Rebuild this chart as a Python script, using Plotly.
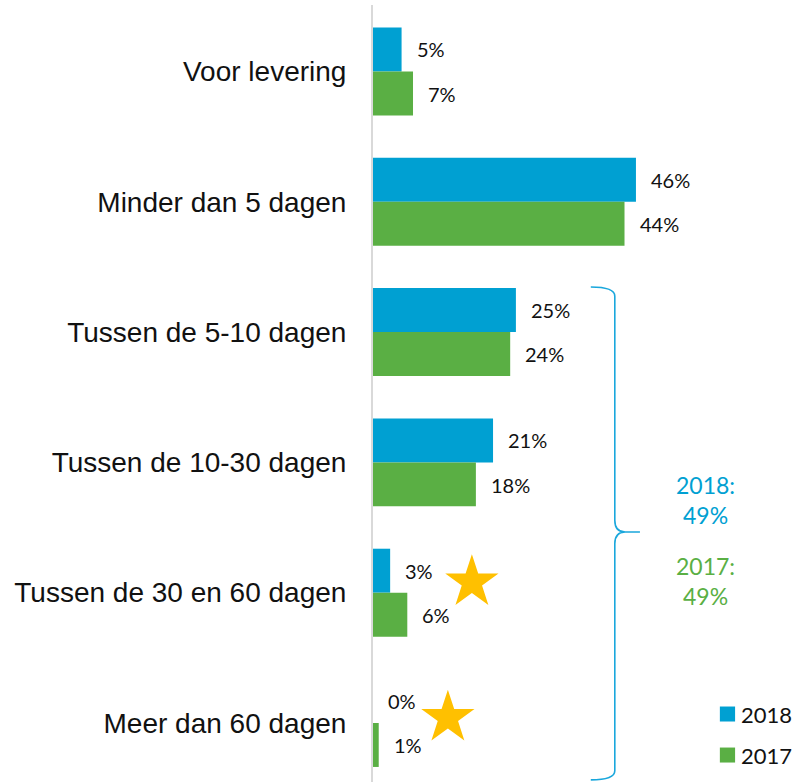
import plotly.graph_objects as go

categories = ["Voor levering", "Minder dan 5 dagen", "Tussen de 5-10 dagen",
              "Tussen de 10-30 dagen", "Tussen de 30 en 60 dagen", "Meer dan 60 dagen"]
values_2018 = [5, 46, 25, 21, 3, 0]
values_2017 = [7, 44, 24, 18, 6, 1]
series_names = ["2018", "2017"]
total_2018 = 49
total_2017 = 49
star_categories = ["Tussen de 30 en 60 dagen", "Meer dan 60 dagen"]

BLUE = "#00A0D2"
GREEN = "#5AAF44"
STAR = "#FFC000"
LABEL_FONT = "Lato"

idx = list(range(len(categories)))

fig = go.Figure()
fig.add_trace(go.Bar(y=idx, x=values_2018, name=series_names[0], orientation="h",
                     marker=dict(color=BLUE, line=dict(width=0)), showlegend=False))
fig.add_trace(go.Bar(y=idx, x=values_2017, name=series_names[1], orientation="h",
                     marker=dict(color=GREEN, line=dict(width=0)), showlegend=False))

annotations = []
for i, (v18, v17) in enumerate(zip(values_2018, values_2017)):
    annotations.append(dict(x=v18, y=i - 0.17, xref="x", yref="y", text=f"{v18}%",
                            showarrow=False, xanchor="left", xshift=13,
                            font=dict(family=LABEL_FONT, size=20, color="#111")))
    annotations.append(dict(x=v17, y=i + 0.17, xref="x", yref="y", text=f"{v17}%",
                            showarrow=False, xanchor="left", xshift=13,
                            font=dict(family=LABEL_FONT, size=20, color="#111")))

# totals next to bracket
annotations.append(dict(x=58.2, y=3.29, xref="x", yref="y", text=f"2018:<br>{total_2018}%",
                        showarrow=False, align="center",
                        font=dict(family=LABEL_FONT, size=23, color=BLUE)))
annotations.append(dict(x=58.2, y=3.91, xref="x", yref="y", text=f"2017:<br>{total_2017}%",
                        showarrow=False, align="center",
                        font=dict(family=LABEL_FONT, size=23, color=GREEN)))

# custom legend (bottom right)
shapes = []
for name, col, py in [(series_names[0], BLUE, 0.0875), (series_names[1], GREEN, 0.0347)]:
    shapes.append(dict(type="rect", xref="paper", yref="paper",
                       x0=0.820, x1=0.856, y0=py - 0.00965, y1=py + 0.00965,
                       fillcolor=col, line=dict(width=0)))
    annotations.append(dict(x=0.866, y=py, xref="paper", yref="paper", text=name,
                            showarrow=False, xanchor="left", yanchor="middle",
                            font=dict(family=LABEL_FONT, size=22, color="#111")))

# stars
star_x = [17.3, 13.1]
star_y = [categories.index(star_categories[0]) - 0.08, categories.index(star_categories[1]) - 0.04]
fig.add_trace(go.Scatter(x=star_x, y=star_y, mode="markers", showlegend=False,
                         marker=dict(symbol="star", size=40, color=STAR, line=dict(width=0)),
                         hoverinfo="skip", cliponaxis=False))

# bracket
bx, bl, br = 42.3, 38.1, 46.7
yt, ym, yb = 1.654, 3.534, 5.437
path = (f"M {bl},{yt} Q {bx},{yt} {bx},{yt+0.07} L {bx},{ym-0.09} "
        f"Q {bx},{ym} {bx+1.8},{ym} L {br},{ym} M {bx+1.8},{ym} "
        f"Q {bx},{ym} {bx},{ym+0.09} L {bx},{yb-0.07} Q {bx},{yb} {bl},{yb}")
shapes.append(dict(type="path", path=path, xref="x", yref="y",
                   line=dict(color="#1AA7DC", width=1.6)))

fig.update_layout(
    width=796, height=782,
    margin=dict(l=373, r=0, t=5, b=0, autoexpand=False),
    paper_bgcolor="white", plot_bgcolor="white",
    barmode="group", bargap=0.325, bargroupgap=0,
    annotations=annotations, shapes=shapes, showlegend=False,
    xaxis=dict(range=[0, 74], showgrid=False, zeroline=False, showticklabels=False,
               showline=False, fixedrange=True, automargin=False),
    yaxis=dict(range=[5.453, -0.5104], showgrid=False, zeroline=False, automargin=False,
               tickmode="array", tickvals=idx, ticktext=categories,
               showline=True, linecolor="#D9D9D9", linewidth=2, ticks="",
               ticklabelstandoff=19,
               tickfont=dict(family="Liberation Sans, Arial", size=28, color="#111")),
)

fig.write_html("out.html", config={"displayModeBar": False},
               post_script="document.body.style.margin='0';document.body.style.overflow='hidden';")
